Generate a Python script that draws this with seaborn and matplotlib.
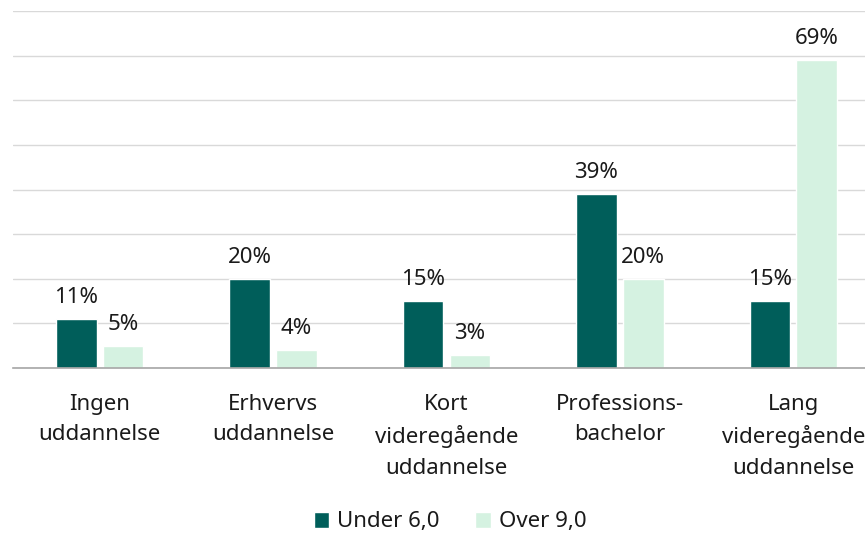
import pandas as pd
import matplotlib.pyplot as plt
import seaborn as sns

# data
categories = ['Ingen\nuddannelse', 'Erhvervs\nuddannelse', 'Kort\nvideregående\nuddannelse',
              'Professions-\nbachelor', 'Lang\nvideregående\nuddannelse']
series = ['Under 6,0', 'Over 9,0']
under_6 = [11, 20, 15, 39, 15]
over_9 = [5, 4, 3, 20, 69]

sns.set_style("white")
plt.rcParams['font.family'] = ['Noto Sans', 'DejaVu Sans']
plt.rcParams['text.color'] = '#1a1a1a'

df = pd.DataFrame({
    'Kategori': categories * 2,
    'Gruppe': [series[0]] * 5 + [series[1]] * 5,
    'Andel': under_6 + over_9,
})

fig = plt.figure(figsize=(8.65, 5.35), dpi=100)
ax = fig.add_axes([13 / 865, 1 - 368 / 535, 867 / 865, 357 / 535])

sns.barplot(data=df, x='Kategori', y='Andel', hue='Gruppe', ax=ax,
            palette=['#005e5a', '#d5f2e1'], width=0.54, gap=0.13,
            saturation=1, errorbar=None, legend=True)

for c in ax.containers:
    ax.bar_label(c, fmt='%d%%', padding=8, fontsize=16, color='#1a1a1a')

ax.set_ylim(0, 80)
ax.set_xlim(-0.5, 4.5)
ax.set_yticks(range(0, 81, 10))
ax.yaxis.grid(True, color='#d9d9d9', linewidth=1)
ax.set_axisbelow(True)
ax.tick_params(axis='y', left=False, labelleft=False)
ax.tick_params(axis='x', bottom=False, pad=15, labelsize=16, labelcolor='#1a1a1a')
for lbl in ax.get_xticklabels():
    lbl.set_linespacing(1.6)
ax.set_xlabel('')
ax.set_ylabel('')
for s in ['top', 'right', 'left']:
    ax.spines[s].set_visible(False)
ax.spines['bottom'].set_color('#a6a6a6')
ax.spines['bottom'].set_linewidth(1.2)

h, l = ax.get_legend_handles_labels()
ax.legend_.remove()
fig.legend(h, l, loc='center', bbox_to_anchor=(450 / 865, 1 - 522 / 535), ncol=2,
           frameon=False, fontsize=16, handlelength=0.7, handleheight=0.7,
           handletextpad=0.35, columnspacing=1.6)

fig.savefig('out.png', dpi=100)
